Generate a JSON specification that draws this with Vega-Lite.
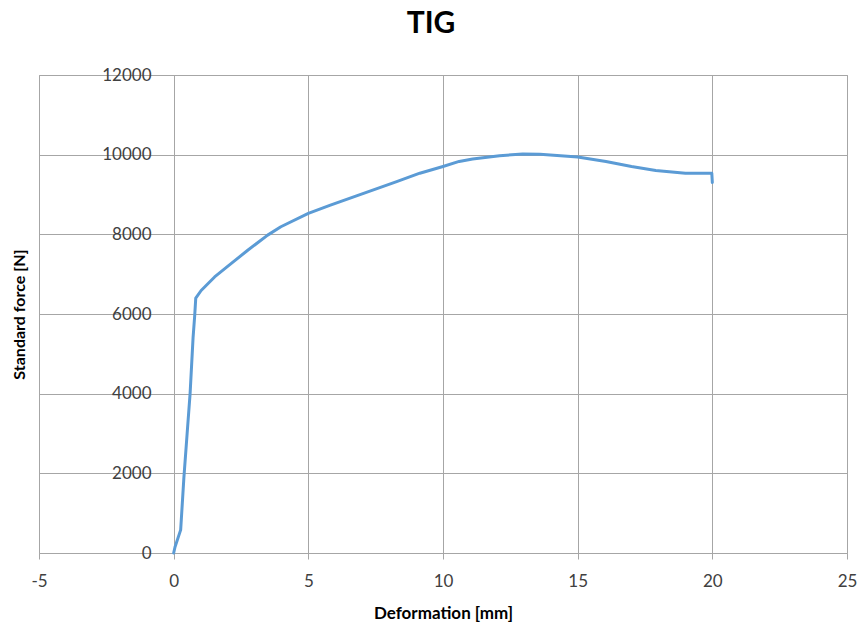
{
  "$schema": "https://vega.github.io/schema/vega-lite/v6.json",
  "width": 808,
  "height": 478,
  "autosize": {"type": "none"},
  "padding": {"left": 39, "top": 75, "right": 17, "bottom": 80},
  "background": "white",
  "title": {
    "text": "TIG",
    "font": "Lato",
    "fontSize": 30,
    "fontWeight": "bold",
    "color": "#000000",
    "dx": -12,
    "offset": 27
  },
  "config": {
    "view": {"stroke": "#a6a6a6", "strokeWidth": 1},
    "axis": {"gridColor": "#a6a6a6", "gridWidth": 1, "gridOpacity": 1}
  },
  "data": {
    "values": [
      {"x": 0.0, "F": 0},
      {"x": 0.05, "F": 150},
      {"x": 0.26, "F": 580},
      {"x": 0.38, "F": 1900},
      {"x": 0.5, "F": 3000},
      {"x": 0.61, "F": 4000},
      {"x": 0.72, "F": 5400},
      {"x": 0.78, "F": 5950},
      {"x": 0.82, "F": 6400},
      {"x": 1.02, "F": 6590},
      {"x": 1.52, "F": 6930},
      {"x": 2.13, "F": 7264},
      {"x": 2.75, "F": 7600},
      {"x": 3.49, "F": 7980},
      {"x": 3.98, "F": 8190},
      {"x": 5.0, "F": 8525},
      {"x": 5.82, "F": 8733},
      {"x": 7.05, "F": 9030},
      {"x": 8.28, "F": 9322},
      {"x": 9.14, "F": 9535},
      {"x": 10.0, "F": 9704},
      {"x": 10.6, "F": 9830},
      {"x": 11.1, "F": 9890},
      {"x": 12.1, "F": 9975},
      {"x": 12.96, "F": 10018},
      {"x": 13.6, "F": 10008},
      {"x": 15.0, "F": 9942},
      {"x": 16.05, "F": 9830},
      {"x": 17.0, "F": 9704},
      {"x": 17.9, "F": 9603},
      {"x": 19.0, "F": 9535},
      {"x": 19.98, "F": 9535},
      {"x": 20.0, "F": 9300}
    ]
  },
  "mark": {"type": "line", "color": "#5B9BD5", "strokeWidth": 3, "strokeJoin": "round", "strokeCap": "round"},
  "encoding": {
    "x": {
      "field": "x",
      "type": "quantitative",
      "scale": {"domain": [-5, 25], "nice": false, "zero": false},
      "axis": {
        "title": "Deformation [mm]",
        "values": [-5, 0, 5, 10, 15, 20, 25],
        "labelExpr": "'' + datum.value",
        "domain": false,
        "ticks": true,
        "tickSize": 6,
        "tickColor": "#a6a6a6",
        "labelFont": "Lato",
        "labelFontSize": 17,
        "labelColor": "#404040",
        "labelPadding": 14,
        "labelFlush": false,
        "titleFont": "Lato",
        "titleFontSize": 17,
        "titleFontWeight": "bold",
        "titleColor": "#000000",
        "titlePadding": 16
      }
    },
    "y": {
      "field": "F",
      "type": "quantitative",
      "scale": {"domain": [0, 12000], "nice": false},
      "axis": {
        "title": "Standard force [N]",
        "values": [0, 2000, 4000, 6000, 8000, 10000, 12000],
        "format": "d",
        "offset": -134,
        "domain": false,
        "ticks": false,
        "labelFont": "Lato",
        "labelFontSize": 17,
        "labelColor": "#404040",
        "labelPadding": 22,
        "labelFlush": false,
        "titleFont": "Lato",
        "titleFontSize": 16,
        "titleFontWeight": "bold",
        "titleColor": "#000000",
        "titleX": -146,
        "titleY": 239,
        "titleAngle": -90,
        "titleAlign": "center",
        "titleBaseline": "bottom"
      }
    }
  }
}
